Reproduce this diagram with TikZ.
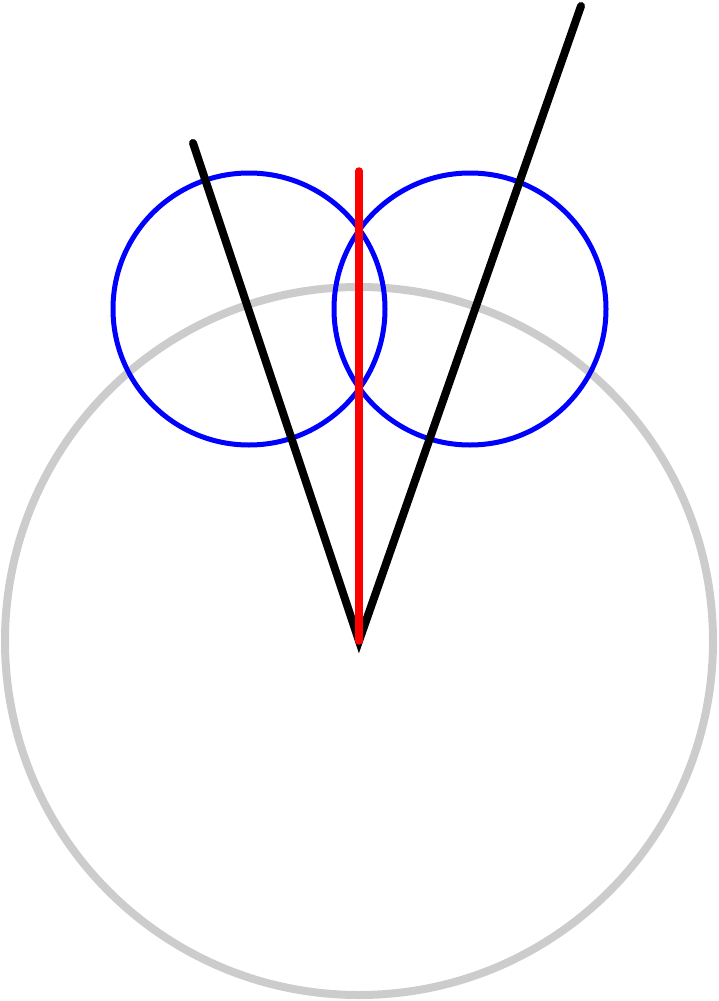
\documentclass[tikz,border=0pt]{standalone}
\begin{document}
\begin{tikzpicture}[x=1pt,y=-1pt,
  graycirc/.style={draw=black!20,line width=8pt},
  bluecirc/.style={draw=blue,line width=5pt},
  blackline/.style={draw=black,line width=8pt,line cap=round,miter limit=10},
  redline/.style={draw=red,line width=7.5pt,line cap=round}]
\useasboundingbox (0,0) rectangle (718,1001);
\coordinate (O) at (359,641);
\coordinate (L) at (193,143);
\coordinate (R) at (581,6);
\coordinate (T) at (359,171);
\coordinate (C1) at (249,309);
\coordinate (C2) at (470,309);
\draw[graycirc] (O) circle (354);
\draw[bluecirc] (C1) circle (136);
\draw[bluecirc] (C2) circle (136);
\draw[blackline] (L) -- (O) -- (R);
\draw[redline] (T) -- (O);
\end{tikzpicture}
\end{document}
